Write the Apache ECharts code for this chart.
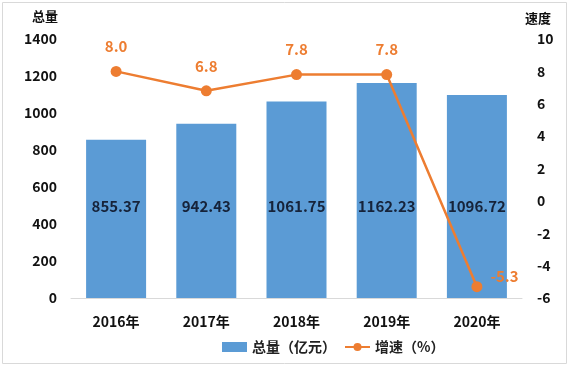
<!DOCTYPE html>
<html><head><meta charset="utf-8">
<script src="https://cdn.jsdelivr.net/npm/echarts@6/dist/echarts.min.js"></script>
<style>html,body{margin:0;padding:0;background:#fff}#c{width:570px;height:369px}</style>
</head><body><div id="c"></div>
<script>
var categories = ['2016年','2017年','2018年','2019年','2020年'];
var totals = [855.37, 942.43, 1061.75, 1162.23, 1096.72];
var growth = [8.0, 6.8, 7.8, 7.8, -5.3];
var leftTicks = [0, 1400, 200];
var rightTicks = [-6, 10, 2];
var leftName = '总量';
var rightName = '速度';

var FONT = '"Noto Sans CJK SC", "Noto Sans", sans-serif';
var chart = echarts.init(document.getElementById('c'), null, {renderer:'canvas'});
var growthData = growth.map(function(v, i){
  if (i === growth.length - 1) {
    return {value: v, label: {position: 'right', offset: [-4, -10]}};
  }
  return v;
});
chart.setOption({
  animation: false,
  textStyle: {fontFamily: FONT},
  graphic: [
    {type:'rect', shape:{x:2.5,y:2.5,width:564,height:361}, style:{fill:'none', stroke:'#d9d9d9', lineWidth:1}, silent:true},
    {type:'text', left:32, top:10, style:{text:leftName, fontFamily:FONT, fontSize:13, fontWeight:'bold', fill:'#111'}}
  ],
  grid: {left: 71, right: 48, top: 39, bottom: 71},
  legend: {
    bottom: 10, left: 217, itemGap: 8, itemWidth: 25, itemHeight: 10,
    textStyle: {fontFamily: FONT, fontSize: 14, fontWeight: 'bold', color: '#222'},
    data: [{name:'总量（亿元）', icon:'rect'}, {name:'增速（%）'}]
  },
  xAxis: {
    type: 'category', data: categories,
    axisLine: {show: true, lineStyle: {color: '#d9d9d9', width: 1}},
    axisTick: {show: false},
    axisLabel: {fontFamily: FONT, fontSize: 14, fontWeight: 'bold', color: '#111', margin: 17}
  },
  yAxis: [{
    type: 'value', min: leftTicks[0], max: leftTicks[1], interval: leftTicks[2],
    axisLine: {show: false}, axisTick: {show: false}, splitLine: {show: false},
    axisLabel: {fontFamily: FONT, fontSize: 14, fontWeight: 'bold', color: '#111', margin: 14,
      formatter: function(v){ return String(v); }}
  }, {
    type: 'value', min: rightTicks[0], max: rightTicks[1], interval: rightTicks[2],
    name: rightName, nameLocation: 'end', nameGap: 14,
    nameTextStyle: {fontFamily: FONT, fontSize: 13, fontWeight: 'bold', color: '#111', align: 'left', padding: [0, 0, 0, 3]},
    axisLine: {show: false}, axisTick: {show: false}, splitLine: {show: false},
    axisLabel: {fontFamily: FONT, fontSize: 14, fontWeight: 'bold', color: '#111', margin: 15, align: 'left'}
  }],
  series: [{
    name: '总量（亿元）', type: 'bar', data: totals, barWidth: 60,
    itemStyle: {color: '#5b9bd5'},
    label: {show: true, position: 'insideBottom', distance: 84, fontFamily: FONT, fontSize: 15, fontWeight: 'bold', color: '#16233a',
      formatter: function(p){ return p.value.toFixed(2); }}
  }, {
    name: '增速（%）', type: 'line', yAxisIndex: 1, data: growthData,
    symbol: 'circle', symbolSize: 11,
    lineStyle: {color: '#ed7d31', width: 2.5},
    itemStyle: {color: '#ed7d31'},
    label: {show: true, position: 'top', distance: 12, fontFamily: FONT, fontSize: 15, fontWeight: 'bold', color: '#ed7d31',
      formatter: function(p){ return p.value.toFixed(1); }}
  }]
});
</script></body></html>
